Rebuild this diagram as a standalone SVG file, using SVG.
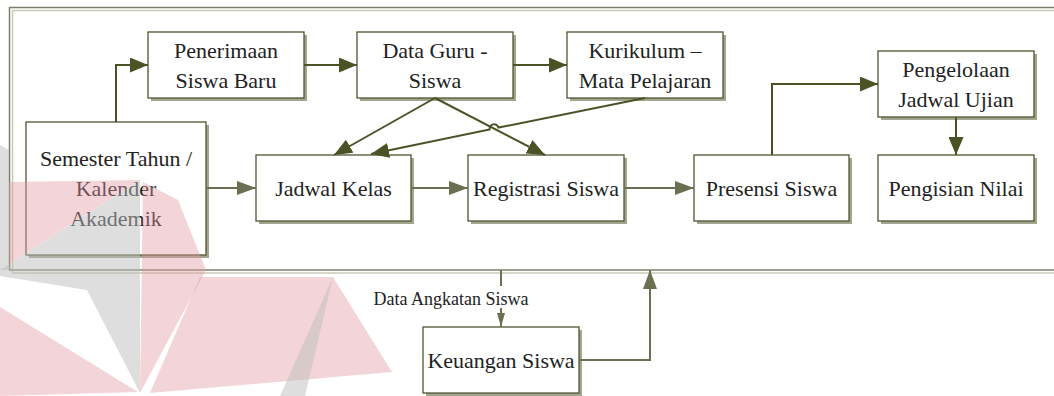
<svg xmlns="http://www.w3.org/2000/svg" width="1054" height="396" viewBox="0 0 1054 396">
<style>
.box{fill:#ffffff;stroke:#4f5530;stroke-width:1.3}
.sh{fill:#a3a58f;stroke:none}
.t{font-family:"Liberation Serif","Times New Roman",serif;font-size:22px;fill:#222;text-anchor:middle}
.lbl{font-family:"Liberation Serif","Times New Roman",serif;font-size:18px;fill:#222;text-anchor:middle}
.cd{fill:none;stroke:#4b5326;stroke-width:2}
.cl{fill:none;stroke:#6b7052;stroke-width:2}
.wp{fill:#e39aa5;opacity:0.42}
.wg{fill:#bdbdbd;opacity:0.5}
</style>
<defs>
<marker id="ad" viewBox="0 0 18 15" refX="18" refY="7.5" markerWidth="18" markerHeight="15" orient="auto" markerUnits="userSpaceOnUse"><path d="M0,0 L18,7.5 L0,15 Z" fill="#4b5326"/></marker>
<marker id="al" viewBox="0 0 19 14" refX="19" refY="7" markerWidth="19" markerHeight="14" orient="auto" markerUnits="userSpaceOnUse"><path d="M0,0 L19,7 L0,14 Z" fill="#6b7052"/></marker>
<marker id="as" viewBox="0 0 14 8" refX="14" refY="4" markerWidth="14" markerHeight="8" orient="auto" markerUnits="userSpaceOnUse"><path d="M0,0 L14,4 L0,8 Z" fill="#6b7052"/></marker>
</defs>
<rect width="1054" height="396" fill="#ffffff"/>
<g id="frame">
<rect x="12.5" y="10.5" width="1060" height="262.5" fill="none" stroke="#c9cab9" stroke-width="1.5"/>
<rect x="9.5" y="7.5" width="1060" height="262.5" fill="none" stroke="#7c806a" stroke-width="1.5"/>
</g>
<g id="n-penerimaan"><rect class="sh" x="151" y="35" width="156" height="66"/><rect class="box" x="148" y="32" width="156" height="66"/><text class="t" x="226" y="57.5">Penerimaan</text><text class="t" x="226" y="87.5">Siswa Baru</text></g>
<g id="n-dataguru"><rect class="sh" x="360" y="35" width="156" height="66"/><rect class="box" x="357" y="32" width="156" height="66"/><text class="t" x="435" y="57.5">Data Guru -</text><text class="t" x="435" y="87.5">Siswa</text></g>
<g id="n-kurikulum"><rect class="sh" x="570" y="35" width="156" height="66"/><rect class="box" x="567" y="32" width="156" height="66"/><text class="t" x="645" y="57.5">Kurikulum –</text><text class="t" x="645" y="87.5">Mata Pelajaran</text></g>
<g id="n-pengelolaan"><rect class="sh" x="881" y="54" width="156" height="66"/><rect class="box" x="878" y="51" width="156" height="66"/><text class="t" x="956" y="76.5">Pengelolaan</text><text class="t" x="956" y="106.5">Jadwal Ujian</text></g>
<g id="n-semester"><rect class="sh" x="29" y="125" width="180" height="133"/><rect class="box" x="26" y="122" width="180" height="133"/><text class="t" x="116" y="166">Semester Tahun /</text><text class="t" x="116" y="196">Kalender</text><text class="t" x="116" y="226">Akademik</text></g>
<g id="n-jadwal"><rect class="sh" x="259" y="158" width="155" height="66"/><rect class="box" x="256" y="155" width="155" height="66"/><text class="t" x="333.5" y="195.5">Jadwal Kelas</text></g>
<g id="n-registrasi"><rect class="sh" x="471" y="158" width="156" height="66"/><rect class="box" x="468" y="155" width="156" height="66"/><text class="t" x="546" y="195.5">Registrasi Siswa</text></g>
<g id="n-presensi"><rect class="sh" x="697" y="158" width="155" height="66"/><rect class="box" x="694" y="155" width="155" height="66"/><text class="t" x="771.5" y="195.5">Presensi Siswa</text></g>
<g id="n-pengisian"><rect class="sh" x="881" y="158" width="156" height="66"/><rect class="box" x="878" y="155" width="156" height="66"/><text class="t" x="956" y="195.5">Pengisian Nilai</text></g>
<g id="n-keuangan"><rect class="sh" x="426" y="330" width="156" height="66"/><rect class="box" x="423" y="327" width="156" height="66"/><text class="t" x="501" y="367.5">Keuangan Siswa</text></g>
<g id="connectors">
<path class="cd" d="M116,122 V65 H148" marker-end="url(#ad)"/>
<path class="cd" d="M304,65 H357" marker-end="url(#ad)"/>
<path class="cd" d="M513,65 H567" marker-end="url(#ad)"/>
<path class="cd" d="M435,98 L334,155" marker-end="url(#ad)"/>
<path class="cd" d="M435,98 L545,155" marker-end="url(#ad)"/>
<path class="cd" d="M645,98 L498.4,127.6 A4.5,4.5 0 0 0 489.6,129.4 L371,154" marker-end="url(#ad)"/>
<path class="cl" d="M206,188 H256" marker-end="url(#al)"/>
<path class="cl" d="M411,188 H468" marker-end="url(#al)"/>
<path class="cl" d="M624,188 H694" marker-end="url(#al)"/>
<path class="cd" d="M772,155 V84 H878" marker-end="url(#ad)"/>
<path class="cd" d="M956,117 V155" marker-end="url(#ad)"/>
<path class="cl" d="M501,270 V286" stroke-width="1.5"/>
<path class="cl" d="M501,308 V327" stroke-width="1.5" marker-end="url(#as)"/>
<path class="cl" d="M579,360 H650 V270" marker-end="url(#al)"/>
<text class="lbl" x="451" y="305">Data Angkatan Siswa</text>
</g>
<g id="watermark">
<polygon class="wg" points="0,145 9,150 9,270 0,270"/>
<polygon class="wp" points="9,182 140,180 9,264"/>
<polygon class="wg" points="140,180 0,270 0,276 87,290 140,393"/>
<polygon class="wp" points="143,182 178,200 206,270 140,393"/>
<polygon class="wp" points="200,277 333,277 392,372 150,393"/>
<polygon class="wp" points="0,307 138,392 0,396"/>
<polygon class="wg" points="333,277 305,396 280,396"/>
</g>
</svg>
